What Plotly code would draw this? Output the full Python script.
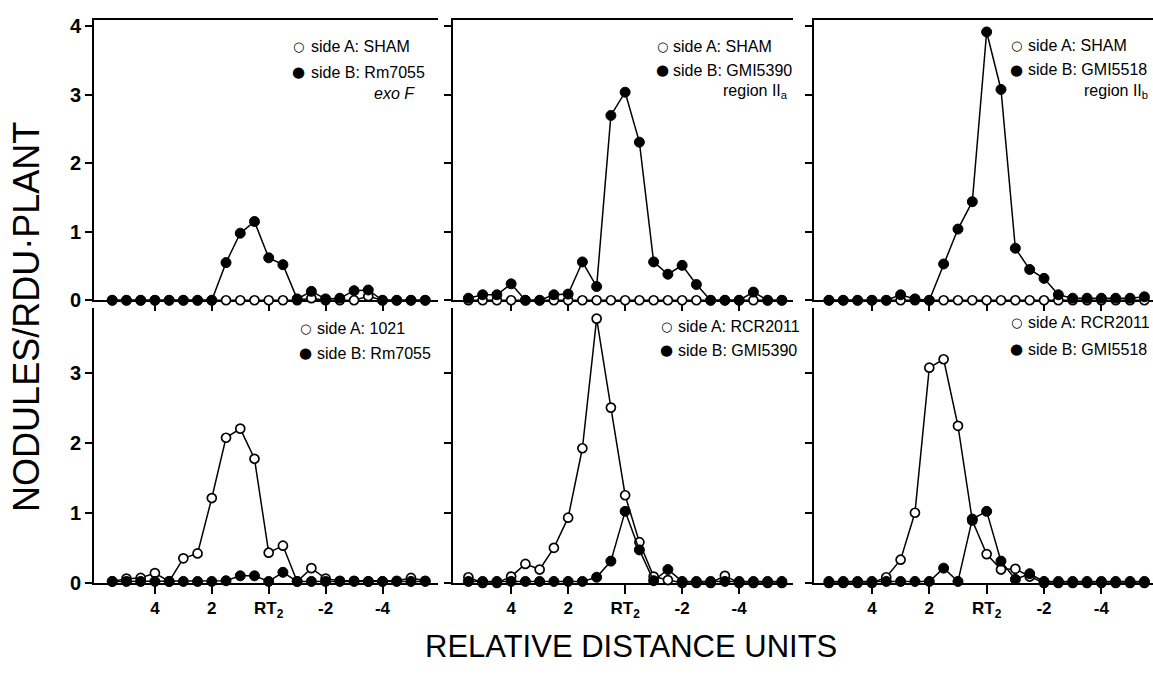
import plotly.graph_objects as go

# x positions (relative distance units), 0 = RT2
X = [5.5, 5.0, 4.5, 4.0, 3.5, 3.0, 2.5, 2.0, 1.5, 1.0, 0.5, 0.0, -0.5,
     -1.0, -1.5, -2.0, -2.5, -3.0, -3.5, -4.0, -4.5, -5.0, -5.5]

# Panel 1: side A SHAM / side B Rm7055 exoF
A1 = [0, 0, 0, 0, 0, 0, 0, 0, 0, 0, 0, 0, 0, 0, 0.03, 0, 0, 0, 0.06, 0, 0, 0, 0]
B1 = [0, 0, 0, 0, 0, 0, 0, 0, 0.55, 0.98, 1.15, 0.62, 0.52, 0.02, 0.13, 0.02, 0.03, 0.14, 0.15, 0, 0, 0, 0]
# Panel 2: side A SHAM / side B GMI5390 region IIa
A2 = [0] * 23
B2 = [0.03, 0.08, 0.08, 0.24, 0, 0, 0.08, 0.09, 0.56, 0.2, 2.7, 3.04, 2.31, 0.56, 0.38, 0.51, 0.23, 0, 0, 0, 0.12, 0, 0]
# Panel 3: side A SHAM / side B GMI5518 region IIb
A3 = [0] * 23
B3 = [0, 0, 0, 0, 0, 0.08, 0.02, 0, 0.53, 1.04, 1.44, 3.92, 3.08, 0.76, 0.45, 0.32, 0.08, 0.03, 0.03, 0.03, 0.03, 0.03, 0.05]
# Panel 4: side A 1021 / side B Rm7055
A4 = [0.02, 0.06, 0.07, 0.14, 0.02, 0.35, 0.42, 1.21, 2.07, 2.2, 1.77, 0.43, 0.53, 0.02, 0.21, 0.06, 0.03, 0.03, 0.02, 0.02, 0.03, 0.07, 0.03]
B4 = [0.02, 0.02, 0.02, 0.02, 0.02, 0.02, 0.02, 0.02, 0.03, 0.1, 0.1, 0.02, 0.15, 0.02, 0.02, 0.02, 0.02, 0.02, 0.02, 0.02, 0.02, 0.02, 0.02]
# Panel 5: side A RCR2011 / side B GMI5390
A5 = [0.08, 0, 0, 0.09, 0.27, 0.19, 0.5, 0.93, 1.92, 3.77, 2.5, 1.25, 0.58, 0.09, 0.04, 0, 0, 0, 0.1, 0, 0, 0, 0]
B5 = [0.02, 0.02, 0.02, 0.02, 0.02, 0.02, 0.02, 0.02, 0.02, 0.08, 0.31, 1.02, 0.47, 0.03, 0.19, 0.02, 0.02, 0.02, 0.02, 0.02, 0.02, 0.02, 0.02]
# Panel 6: side A RCR2011 / side B GMI5518
A6 = [0, 0, 0, 0, 0.08, 0.33, 1.0, 3.07, 3.19, 2.24, 0.89, 0.41, 0.19, 0.2, 0.09, 0, 0, 0, 0, 0, 0, 0, 0]
B6 = [0.02, 0.02, 0.02, 0.02, 0.02, 0.02, 0.02, 0.02, 0.21, 0.02, 0.91, 1.02, 0.31, 0.05, 0.13, 0.02, 0.02, 0.02, 0.02, 0.02, 0.02, 0.02, 0.02]

TICK_VALS = [4, 2, 0, -2, -4]
TICK_TEXT = ["4", "2", "RT<sub>2</sub>", "-2", "-4"]

LEGENDS = [
    ["side A: SHAM", "side B: Rm7055", "<i>exo F</i>"],
    ["side A: SHAM", "side B: GMI5390", "region II<sub>a</sub>"],
    ["side A: SHAM", "side B: GMI5518", "region II<sub>b</sub>"],
    ["side A: 1021", "side B: Rm7055", ""],
    ["side A: RCR2011", "side B: GMI5390", ""],
    ["side A: RCR2011", "side B: GMI5518", ""],
]

SERIES = [(A1, B1), (A2, B2), (A3, B3), (A4, B4), (A5, B5), (A6, B6)]

W, H = 1153, 675
FONT = "Liberation Sans, Arial, Helvetica, sans-serif"

col_px = [(94, 438), (453, 793), (814, 1153)]
col_range = [(6.14, -5.95), (6.04, -5.89), (6.02, -5.80)]
row_px = [(16, 303), (311, 592)]
row_range = [(0, 4.1), (0, 3.92)]

# legend positions in pixels: (symbol x, text x, y rowA, y rowB, extra x, extra y)
leg_pos = [
    (299, 309, 43, 70, 372, 92),
    (662, 671, 43, 68, 721, 89),
    (1016, 1026, 42, 67, 1082, 89),
    (305, 315, 332, 357, None, None),
    (666, 676, 330, 354, None, None),
    (1016, 1026, 326, 353, None, None),
]

fig = go.Figure()
layout = dict(width=W, height=H, margin=dict(l=0, r=0, t=0, b=0),
              paper_bgcolor="white", plot_bgcolor="white", showlegend=False,
              font=dict(family=FONT, color="black"))
annotations = []

for i, (A, B) in enumerate(SERIES):
    r, c = divmod(i, 3)
    n = i + 1
    xa = "x" if n == 1 else f"x{n}"
    ya = "y" if n == 1 else f"y{n}"
    fig.add_trace(go.Scatter(
        x=X, y=A, xaxis=xa, yaxis=ya, mode="lines+markers", cliponaxis=False,
        line=dict(color="black", width=1.5),
        marker=dict(symbol="circle", size=9, color="white",
                    line=dict(color="black", width=1.7))))
    fig.add_trace(go.Scatter(
        x=X, y=B, xaxis=xa, yaxis=ya, mode="lines+markers", cliponaxis=False,
        line=dict(color="black", width=1.5),
        marker=dict(symbol="circle", size=10, color="black",
                    line=dict(color="black", width=1))))

    x0, x1 = col_px[c]
    y0, y1 = row_px[r]
    xkey = "xaxis" if n == 1 else f"xaxis{n}"
    ykey = "yaxis" if n == 1 else f"yaxis{n}"
    layout[xkey] = dict(
        domain=[x0 / W, x1 / W], anchor=ya, range=list(col_range[c]),
        tickmode="array", tickvals=TICK_VALS, ticktext=TICK_TEXT,
        showticklabels=(r == 1), ticks="outside", ticklen=9, tickwidth=1.8,
        tickcolor="black", showline=True, linecolor="black", linewidth=2,
        mirror=(r == 0), showgrid=False, zeroline=False, layer="below traces",
        tickfont=dict(family=FONT, size=17, color="black", weight="bold"))
    yt = [0, 1, 2, 3, 4] if r == 0 else [0, 1, 2, 3]
    layout[ykey] = dict(
        domain=[1 - y1 / H, 1 - y0 / H], anchor=xa, range=list(row_range[r]),
        tickmode="array", tickvals=yt, showticklabels=(c == 0),
        ticks="outside", ticklen=7, tickwidth=1.8, tickcolor="black",
        showline=True, linecolor="black", linewidth=2, showgrid=False,
        zeroline=False, layer="below traces",
        tickfont=dict(family=FONT, size=20, color="black", weight="bold"))

    sx, tx, ya_px, yb_px, ex, ey = leg_pos[i]
    la, lb, lx = LEGENDS[i]
    annotations.append(dict(text="○", x=sx / W, y=1 - ya_px / H, xref="paper", yref="paper",
                            xanchor="center", yanchor="middle", showarrow=False,
                            font=dict(family="DejaVu Sans", size=13, color="black")))
    annotations.append(dict(text="●", x=sx / W, y=1 - yb_px / H, xref="paper", yref="paper",
                            xanchor="center", yanchor="middle", showarrow=False,
                            font=dict(family="DejaVu Sans", size=15, color="black")))
    annotations.append(dict(text=la, x=tx / W, y=1 - ya_px / H, xref="paper", yref="paper",
                            xanchor="left", yanchor="middle", showarrow=False,
                            font=dict(family=FONT, size=16, color="black")))
    annotations.append(dict(text=lb, x=tx / W, y=1 - yb_px / H, xref="paper", yref="paper",
                            xanchor="left", yanchor="middle", showarrow=False,
                            font=dict(family=FONT, size=16, color="black")))
    if lx:
        annotations.append(dict(text=lx, x=ex / W, y=1 - ey / H, xref="paper", yref="paper",
                                xanchor="left", yanchor="middle", showarrow=False,
                                font=dict(family=FONT, size=16, color="black")))

annotations.append(dict(text="NODULES/RDU·PLANT", x=27 / W, y=1 - 320 / H,
                        xref="paper", yref="paper", textangle=-90, showarrow=False,
                        xanchor="center", yanchor="middle",
                        font=dict(family=FONT, size=36, color="black")))
annotations.append(dict(text="RELATIVE DISTANCE UNITS", x=631 / W, y=1 - 657 / H,
                        xref="paper", yref="paper", showarrow=False,
                        xanchor="center", yanchor="middle",
                        font=dict(family=FONT, size=31, color="black")))

layout["annotations"] = annotations
fig.update_layout(**layout)
fig.write_html("out.html")
